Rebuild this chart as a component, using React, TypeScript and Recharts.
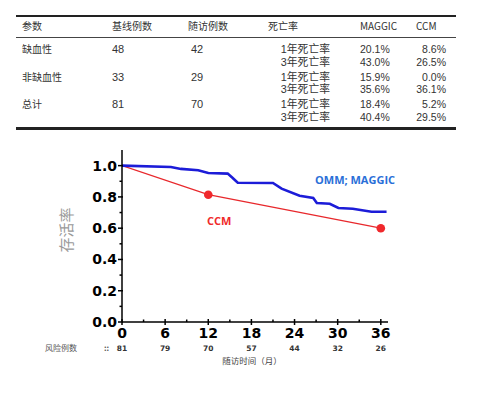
// @ts-nocheck
import { LineChart, Line, XAxis, YAxis } from 'recharts';

// 表格数据
const tableHeaders = ['参数', '基线例数', '随访例数', '死亡率', 'MAGGIC', 'CCM'];
const groups = ['缺血性', '非缺血性', '总计'];
const baselineCounts = [48, 33, 81];
const followupCounts = [42, 29, 70];
const rateLabels = ['1年死亡率', '3年死亡率'];
const maggic1y = [20.1, 15.9, 18.4];
const maggic3y = [43.0, 35.6, 40.4];
const ccm1y = [8.6, 0.0, 5.2];
const ccm3y = [26.5, 36.1, 29.5];

// 生存曲线数据（月，存活率）
const maggicMonths = [0, 6.8, 8.2, 10.6, 12, 14.7, 15.4, 16.1, 21, 22.2, 24.7, 26.6, 27.1, 28.9, 30.1, 32.1, 34.7, 36.8];
const maggicSurvival = [1.0, 0.991, 0.979, 0.97, 0.953, 0.949, 0.921, 0.891, 0.889, 0.853, 0.808, 0.793, 0.761, 0.756, 0.729, 0.724, 0.705, 0.705];
const ccmMonths = [0, 12, 36];
const ccmSurvival = [1.0, 0.814, 0.6];

// 坐标轴刻度与风险例数
const xTicks = [0, 3, 6, 9, 12, 15, 18, 21, 24, 27, 30, 33, 36];
const yTicks = [0, 0.1, 0.2, 0.3, 0.4, 0.5, 0.6, 0.7, 0.8, 0.9, 1.0];
const riskMonths = [0, 6, 12, 18, 24, 30, 36];
const riskCounts = [81, 79, 70, 57, 44, 32, 26];

const maggicData = maggicMonths.map((m, i) => ({ month: m, value: maggicSurvival[i] }));
const ccmData = ccmMonths.map((m, i) => ({ month: m, value: ccmSurvival[i] }));

const tickFont = '"DejaVu Sans", sans-serif';
const cjk = '"Noto Sans CJK SC", sans-serif';
const mixed = '"Liberation Sans", "Noto Sans CJK SC", sans-serif';

function XTick({ x, y, payload }) {
  const v = payload.value;
  const major = v % 6 === 0;
  const ri = riskMonths.indexOf(v);
  return (
    <g>
      {major ? (
        <line x1={x} x2={x} y1={y - 3} y2={y + 3} stroke="#000" strokeWidth={1.5} />
      ) : (
        <line x1={x} x2={x} y1={y - 2.5} y2={y} stroke="#000" strokeWidth={1.5} />
      )}
      {major && (
        <text x={x} y={y + 16} textAnchor="middle" fontFamily={tickFont} fontWeight="bold" fontSize={14} fill="#000">
          {v}
        </text>
      )}
      {ri >= 0 && (
        <text x={x} y={y + 29} textAnchor="middle" fontFamily={tickFont} fontWeight="bold" fontSize={7.5} fill="#333">
          {riskCounts[ri]}
        </text>
      )}
    </g>
  );
}

function YTick({ x, y, payload }) {
  const v = payload.value;
  const major = Math.round(v * 10) % 2 === 0;
  return (
    <g>
      {major ? (
        <line x1={x - 4} x2={x + 1} y1={y} y2={y} stroke="#000" strokeWidth={1.5} />
      ) : (
        <line x1={x - 2.5} x2={x} y1={y} y2={y} stroke="#000" strokeWidth={1.5} />
      )}
      {major && (
        <text x={x - 5} y={y + 5} textAnchor="end" fontFamily={tickFont} fontWeight="bold" fontSize={14} fill="#000">
          {v.toFixed(1)}
        </text>
      )}
    </g>
  );
}

function CcmDot({ cx, cy, index }) {
  if (index === 0) return null;
  return <circle key={index} cx={cx} cy={cy} r={4.3} fill="#f0282c" stroke="none" />;
}

const cell = (left, top, text, extra = {}) => (
  <div
    style={{
      position: 'absolute',
      left,
      top,
      transform: 'translateY(-50%)',
      whiteSpace: 'nowrap',
      lineHeight: 1,
      color: '#333',
      fontFamily: cjk,
      fontSize: 10.5,
      ...extra,
    }}
  >
    {text}
  </div>
);

const rightCell = (right, top, text, extra = {}) =>
  cell(undefined, top, text, { right: 484 - right, ...extra });

export default function App() {
  const headerX = [22, 112, 188, 268, 360, 416];
  const rowY = [49, 76.5, 104];
  const sub = 12.7;
  const num = { fontFamily: mixed, fontSize: 10.5 };
  const rate = { fontFamily: mixed, fontSize: 10.8 };

  return (
    <div style={{ position: 'fixed', left: 0, top: 0, width: 484, height: 393, background: '#fff', overflow: 'hidden' }}>
      {/* 表格线 */}
      <div style={{ position: 'absolute', left: 16, width: 440, top: 15, height: 2, background: '#222' }} />
      <div style={{ position: 'absolute', left: 16, width: 440, top: 37, height: 1, background: '#444' }} />
      <div style={{ position: 'absolute', left: 16, width: 440, top: 127, height: 2.5, background: '#222' }} />

      {tableHeaders.map((h, i) => (
        <div key={h}>{cell(headerX[i], 26, h, { fontSize: 10 })}</div>
      ))}
      {groups.map((g, i) => (
        <div key={g}>
          {cell(22, rowY[i], g, { fontSize: 10 })}
          {cell(112, rowY[i], baselineCounts[i], { fontFamily: mixed, fontSize: 11 })}
          {cell(191, rowY[i], followupCounts[i], { fontFamily: mixed, fontSize: 11 })}
          {rightCell(330, rowY[i], rateLabels[0], rate)}
          {rightCell(330, rowY[i] + sub, rateLabels[1], rate)}
          {cell(360, rowY[i], maggic1y[i].toFixed(1) + '%', num)}
          {cell(360, rowY[i] + sub, maggic3y[i].toFixed(1) + '%', num)}
          {rightCell(446, rowY[i], ccm1y[i].toFixed(1) + '%', num)}
          {rightCell(446, rowY[i] + sub, ccm3y[i].toFixed(1) + '%', num)}
        </div>
      ))}

      <div style={{ position: 'absolute', left: 0, top: 0 }}>
        <LineChart width={484} height={393} margin={{ top: 150, right: 96, bottom: 41, left: 0 }}>
          <XAxis
            dataKey="month"
            type="number"
            domain={[0, 37]}
            ticks={xTicks}
            interval={0}
            allowDataOverflow
            height={30}
            tickSize={0}
            tickMargin={0}
            tickLine={false}
            stroke="#000"
            strokeWidth={1.5}
            tick={<XTick />}
          />
          <YAxis
            type="number"
            domain={[0, 1.1]}
            ticks={yTicks}
            interval={0}
            width={122}
            tickSize={0}
            tickMargin={0}
            tickLine={false}
            stroke="#000"
            strokeWidth={1.5}
            tick={<YTick />}
            label={{
              content: () => (
                <text
                  x={65}
                  y={230}
                  transform="rotate(-90 65 230)"
                  textAnchor="middle"
                  dominantBaseline="central"
                  fontFamily={cjk}
                  fontSize={15}
                  fill="#9a9a9a"
                >
                  存活率
                </text>
              ),
            }}
          />
          <Line
            data={ccmData}
            dataKey="value"
            type="linear"
            stroke="#e8282c"
            strokeWidth={1.3}
            dot={<CcmDot />}
            isAnimationActive={false}
          />
          <Line
            data={maggicData}
            dataKey="value"
            type="linear"
            stroke="#1c1cd8"
            strokeWidth={2.6}
            dot={false}
            isAnimationActive={false}
          />
        </LineChart>
      </div>

      {/* 曲线标注 */}
      {cell(315, 179, 'OMM; MAGGIC', { fontFamily: '"Open Sans", sans-serif', fontWeight: 'bold', fontSize: 11, color: '#2a6fd8' })}
      {cell(207, 220, 'CCM', { fontFamily: '"Open Sans", sans-serif', fontWeight: 'bold', fontSize: 11, color: '#f02a2a' })}

      {/* 风险表 */}
      {cell(45, 348, '风险例数', { fontSize: 8, color: '#555' })}
      {cell(104, 348, '::', { fontSize: 8, color: '#555', fontWeight: 'bold' })}
      <div
        style={{
          position: 'absolute',
          left: 252,
          top: 360,
          transform: 'translate(-50%, -50%)',
          whiteSpace: 'nowrap',
          fontFamily: cjk,
          fontSize: 8.5,
          color: '#444',
          lineHeight: 1,
        }}
      >
        随访时间（月）
      </div>
    </div>
  );
}
